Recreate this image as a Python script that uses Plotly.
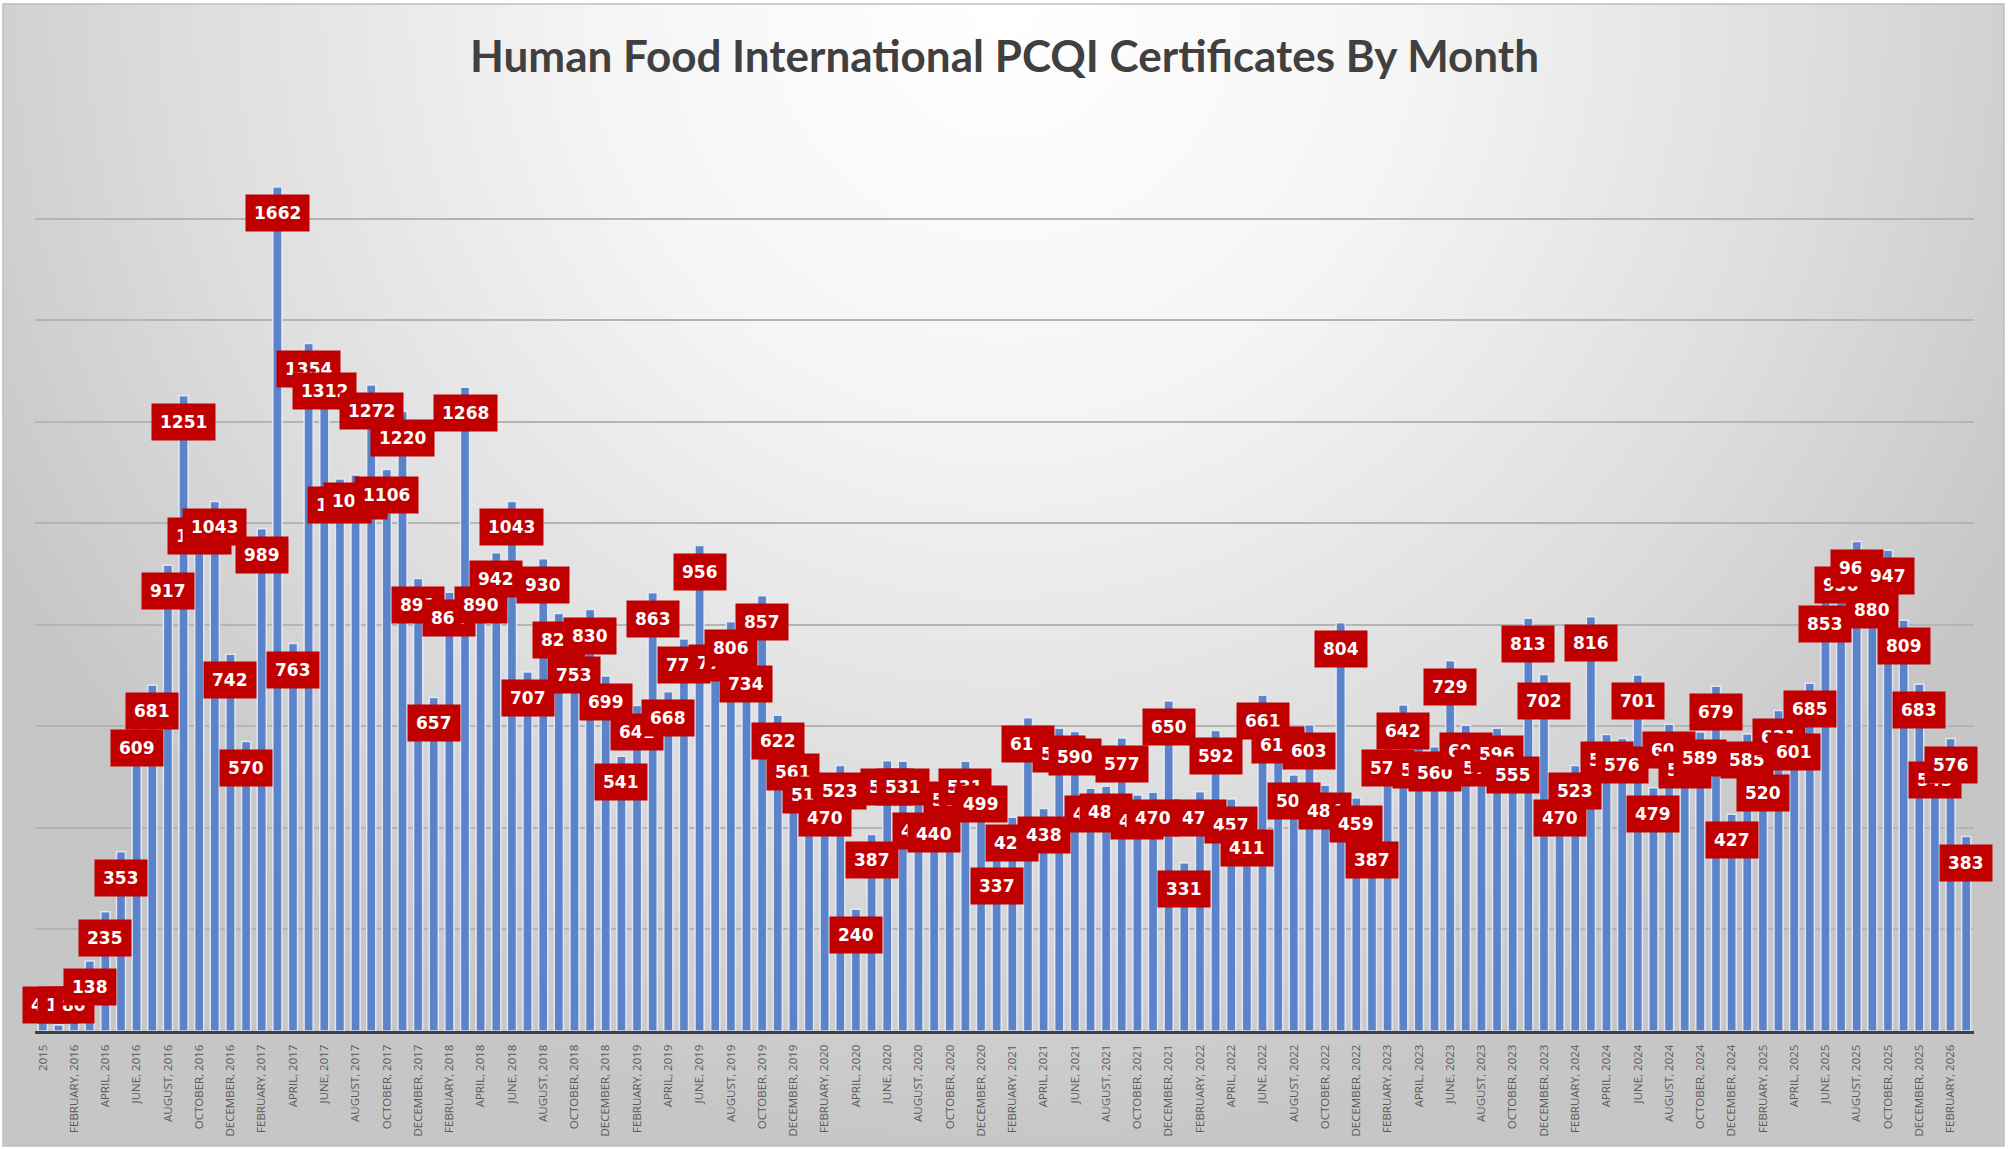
import base64
import plotly.graph_objects as go

# ---------------- data ----------------
MONTHS = ["JANUARY", "FEBRUARY", "MARCH", "APRIL", "MAY", "JUNE", "JULY",
          "AUGUST", "SEPTEMBER", "OCTOBER", "NOVEMBER", "DECEMBER"]
YEARS = list(range(2016, 2027))
FIRST_CATEGORY = "2015"
N_MONTHS = 123  # January 2016 .. March 2026

categories = [FIRST_CATEGORY] + [f"{m}, {y}" for y in YEARS for m in MONTHS][:N_MONTHS]

certificates = [
    43, 12, 80, 138, 235, 353, 609, 681, 917, 1251,
    1026, 1043, 742, 570, 989, 1662, 763, 1354, 1312, 1087,
    1095, 1272, 1106, 1220, 891, 657, 864, 1268, 890, 942,
    1043, 707, 930, 822, 753, 830, 699, 541, 641, 863,
    668, 772, 956, 775, 806, 734, 857, 622, 561, 516,
    470, 523, 240, 387, 532, 531, 446, 440, 507, 531,
    499, 337, 421, 617, 438, 596, 590, 478, 482, 577,
    465, 470, 650, 331, 471, 592, 457, 411, 661, 614,
    504, 603, 484, 804, 459, 387, 570, 642, 565, 560,
    729, 602, 570, 596, 555, 813, 702, 470, 523, 816,
    584, 576, 701, 479, 604, 566, 589, 679, 427, 585,
    520, 631, 601, 685, 853, 930, 964, 880, 947, 809,
    683, 545, 576, 383,
]

tick_positions = list(range(0, len(categories), 2))
tick_labels = [categories[i] for i in tick_positions]

TITLE = "Human Food International PCQI Certificates By Month"

# ---------------- layout geometry ----------------
W, H = 2011, 1149
ML, MR, MT, MB = 35, 37, 117, 118
PW, PH = W - ML - MR, H - MT - MB


def px_to_paper_x(px):
    return (px - ML) / PW


def px_to_paper_y(py):
    return (H - MB - py) / PH


# chart frame (with gradient background)
FX0, FX1, FY0, FY1 = 3, 2004, 4, 1146
fw, fh = FX1 - FX0, FY1 - FY0
svg = f'''<svg xmlns="http://www.w3.org/2000/svg" width="{fw}" height="{fh}" viewBox="0 0 {fw} {fh}" preserveAspectRatio="none">
<defs><radialGradient id="g" gradientUnits="userSpaceOnUse" cx="{fw/2}" cy="0" r="1150">
<stop offset="0" stop-color="#ffffff"/>
<stop offset="0.35" stop-color="#f5f5f5"/>
<stop offset="0.7" stop-color="#dedede"/>
<stop offset="1" stop-color="#c6c6c6"/>
</radialGradient></defs>
<rect x="0" y="0" width="{fw}" height="{fh}" fill="url(#g)"/>
</svg>'''
svg_uri = "data:image/svg+xml;base64," + base64.b64encode(svg.encode()).decode()

x_idx = list(range(len(categories)))

fig = go.Figure()
fig.add_trace(go.Bar(
    x=x_idx,
    y=certificates,
    customdata=categories,
    hovertemplate="%{customdata}: %{y}<extra></extra>",
    marker=dict(color="#5A83CA", line=dict(color="rgba(235,240,250,0.85)", width=1.5)),
))

LABEL_FLOOR = 102  # labels of tiny bars are kept inside the plot, as Excel does
annotations = []
for i, v in zip(x_idx, certificates):
    annotations.append(dict(
        x=i, y=max(v, LABEL_FLOOR), xref="x", yref="y",
        text=str(v), showarrow=False,
        xanchor="center", yanchor="top", yshift=-7,
        font=dict(family="DejaVu Sans", size=17, color="white", weight="bold"),
        bgcolor="#C00000", borderpad=8,
    ))

fig.update_layout(
    width=W, height=H,
    margin=dict(l=ML, r=MR, t=MT, b=MB, pad=0),
    paper_bgcolor="white",
    plot_bgcolor="rgba(0,0,0,0)",
    showlegend=False,
    bargap=0.42,
    title=dict(text=TITLE, x=0.5, xanchor="center", xref="paper",
               y=1 - 57 / H, yref="container", yanchor="middle",
               font=dict(family="Lato", size=44, color="#404040", weight="bold")),
    annotations=annotations,
    images=[dict(source=svg_uri, xref="paper", yref="paper",
                 x=px_to_paper_x(FX0), y=px_to_paper_y(FY0),
                 sizex=px_to_paper_x(FX1) - px_to_paper_x(FX0),
                 sizey=px_to_paper_y(FY0) - px_to_paper_y(FY1),
                 xanchor="left", yanchor="top", sizing="stretch", layer="below")],
    shapes=[dict(type="rect", xref="paper", yref="paper",
                 x0=px_to_paper_x(FX0), x1=px_to_paper_x(FX1),
                 y0=px_to_paper_y(FY1), y1=px_to_paper_y(FY0),
                 line=dict(color="#BFBFBF", width=1.5), layer="below")],
)

fig.update_xaxes(
    range=[-0.5, len(categories) - 0.5],
    tickmode="array", tickvals=tick_positions, ticktext=tick_labels,
    tickangle=-90, ticks="", ticklabelstandoff=6,
    tickfont=dict(family="Open Sans", size=11.5, color="#595959"),
    showline=True, linecolor="#404040", linewidth=3,
    showgrid=False, zeroline=False,
)
fig.update_yaxes(
    range=[0, 1800], dtick=200, tick0=0,
    showgrid=True, gridcolor="#B4B4B4", gridwidth=1.5,
    zeroline=False, showticklabels=False, ticks="",
)

fig.write_html("out.html", config={"displayModeBar": False},
               post_script="document.body.style.margin='0';document.body.style.overflow='hidden';")
